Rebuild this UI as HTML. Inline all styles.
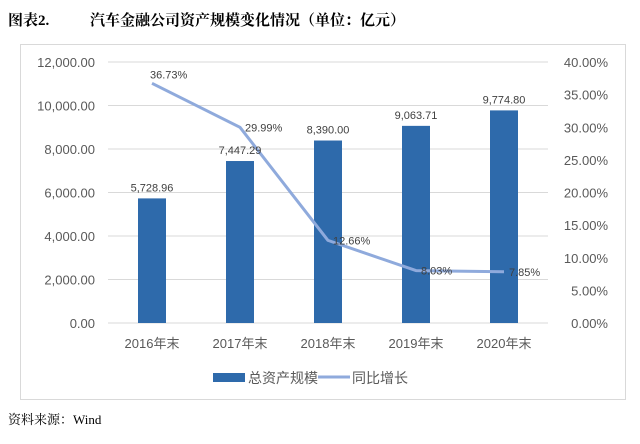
<!DOCTYPE html>
<html><head><meta charset="utf-8"><style>
body{margin:0;background:#fff;width:640px;height:439px;overflow:hidden;font-family:"Liberation Sans","Noto Sans CJK SC",sans-serif}
</style></head><body>
<svg width="640" height="439" xmlns="http://www.w3.org/2000/svg">
<text x="8" y="25" font-size="15" font-weight="bold" font-family="'Liberation Serif','Noto Serif CJK SC',serif" fill="#000">图表2.</text>
<text x="90" y="25" font-size="15" font-weight="bold" font-family="'Liberation Serif','Noto Serif CJK SC',serif" fill="#000">汽车金融公司资产规模变化情况（单位：亿元）</text>
<rect x="20.5" y="44.5" width="605" height="355" fill="none" stroke="#d9d9d9"/>
<g id="grid"></g><g id="bars"></g><g id="line"></g><g id="labels"></g>
<g>
<rect x="213" y="373" width="32" height="9" fill="#2e6aab"/>
<text x="248" y="383" font-size="14" fill="#595959">总资产规模</text>
<line x1="318" y1="377" x2="350" y2="377" stroke="#8faadc" stroke-width="3"/>
<text x="352" y="383" font-size="14" fill="#595959">同比增长</text>
</g>
<text x="8" y="424" font-size="13" font-family="'Liberation Serif','Noto Serif CJK SC',serif" fill="#000">资料来源：Wind</text>
</svg>
<script>
const categories=["2016年末","2017年末","2018年末","2019年末","2020年末"];
const assets=[5728.96,7447.29,8390.00,9063.71,9774.80];
const growth=[36.73,29.99,12.66,8.03,7.85];
const leftTicks=[0,2000,4000,6000,8000,10000,12000];
const rightTicks=[0,5,10,15,20,25,30,35,40];
const NS="http://www.w3.org/2000/svg";
const x0=108,x1=548,yTop=62,yBot=323;
const band=(x1-x0)/categories.length;
const xC=i=>x0+band*(i+0.5);
const yL=v=>yBot-(v/12000)*(yBot-yTop);
const yR=v=>yBot-(v/40)*(yBot-yTop);
function mk(tag,attrs,parent,txt){const e=document.createElementNS(NS,tag);for(const k in attrs)e.setAttribute(k,attrs[k]);if(txt!==undefined)e.textContent=txt;document.getElementById(parent).appendChild(e);return e;}
const fmt=v=>v.toLocaleString('en-US',{minimumFractionDigits:2,maximumFractionDigits:2});
leftTicks.forEach(t=>{const y=yL(t);
 const g=mk('line',{x1:x0,x2:x1,y1:y,y2:y,stroke:'#d9d9d9','stroke-width':1},'grid');
 
 
 const l=mk('text',{x:95,y:y+5,'text-anchor':'end','font-size':13,fill:'#595959'},'grid',fmt(t));
 
 
});
rightTicks.forEach(t=>{const y=yR(t);
 const l=mk('text',{x:608,y:y+5,'text-anchor':'end','font-size':13,fill:'#595959'},'grid',t.toFixed(2)+'%');
 
 
});
categories.forEach((c,i)=>{
 const l=mk('text',{x:xC(i),y:348,'text-anchor':'middle','font-size':13,fill:'#595959'},'labels',c);
 
 
});
assets.forEach((v,i)=>{
 const b=mk('rect',{x:xC(i)-14,y:yL(v),width:28,height:yBot-yL(v),fill:'#2e6aab'},'bars');
 
 
 const l=mk('text',{x:xC(i),y:yL(v)-7,'text-anchor':'middle','font-size':11,fill:'#404040'},'labels',fmt(v));
 
 
});
const pts=growth.map((v,i)=>xC(i)+','+yR(v)).join(' ');
const pl=mk('polyline',{points:pts,fill:'none',stroke:'#8faadc','stroke-width':3,'stroke-linejoin':'round'},'line');


growth.forEach((v,i)=>{
 const l=mk('text',{x:xC(i)+(i==0?-2:5),y:yR(v)+(i==0?-5:4),'font-size':11,fill:'#404040'},'labels',v.toFixed(2)+'%');
 
 
});
</script>
</body></html>
